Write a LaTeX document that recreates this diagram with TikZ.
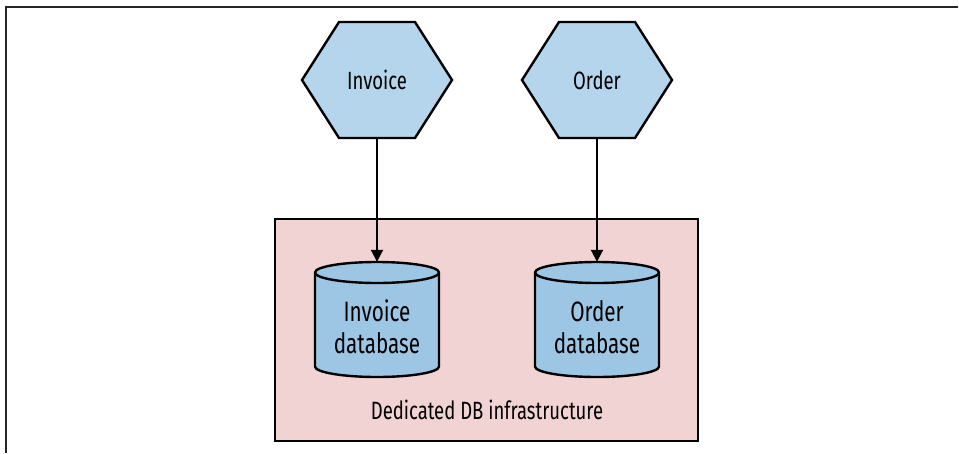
\documentclass[tikz,border=0pt]{standalone}
\usepackage{fontspec}
\setmainfont{Fira Sans}[FakeStretch=0.74]
\usetikzlibrary{arrows.meta,calc}
\definecolor{hexblue}{RGB}{180,213,235}
\definecolor{dbblue}{RGB}{157,198,229}
\definecolor{boxpink}{RGB}{242,211,212}
\tikzset{
  hexnode/.style={minimum width=150pt,minimum height=116pt,inner sep=0pt,font=\fontsize{25}{28}\selectfont},
  hexshape/.style={fill=hexblue,draw=black,line width=2.4pt,line join=miter},
  dbnode/.style={minimum width=124pt,minimum height=115pt,inner sep=0pt,align=center,font=\fontsize{28}{32}\selectfont},
  dbtext/.style={inner sep=0pt,align=center,font=\fontsize{28}{32}\selectfont},
  dbshape/.style={fill=dbblue,draw=black,line width=2.4pt},
  conn/.style={line width=2pt,-{Triangle[width=12pt,length=12pt]}},
  infra/.style={fill=boxpink,draw=black,line width=2pt},
}
\begin{document}
\begin{tikzpicture}[x=1pt,y=-1pt]
\useasboundingbox (0,0) rectangle (959,453);
% frame
\draw[line width=2pt,black!85] (6,453) -- (6,7) -- (958,7);
% infrastructure box
\draw[infra] (275,219) rectangle (698,441);
\node[font=\fontsize{25}{28}\selectfont] (lbl) at (487,410) {Dedicated DB infrastructure};
% hexagons
\foreach \n/\cx/\t in {inv/377/Invoice,ord/597/Order}{
  \draw[hexshape] (\cx-75,80) -- (\cx-38,22) -- (\cx+38,22) -- (\cx+75,80) -- (\cx+38,138) -- (\cx-38,138) -- cycle;
  \node[hexnode] (\n) at (\cx,80) {\t};
}
% cylinders
\foreach \n/\cx/\t in {invdb/377/{Invoice\\database},orddb/597/{Order\\database}}{
  \draw[dbshape] (\cx-62,272.5) -- (\cx-62,366.5)
     arc[start angle=180,end angle=360,x radius=62pt,y radius=10.5pt]
     -- (\cx+62,272.5)
     arc[start angle=0,end angle=180,x radius=62pt,y radius=10.5pt] -- cycle;
  \draw[line width=2.4pt] (\cx-62,272.5) arc[start angle=180,end angle=360,x radius=62pt,y radius=10.5pt];
  \node[dbnode] (\n) at (\cx,319.5) {};
  \node[dbtext] (\n-t) at (\cx,327) {\t};
}
% connectors
\draw[conn] (inv.south) -- (invdb.north);
\draw[conn] (ord.south) -- (orddb.north);
\end{tikzpicture}
\end{document}
